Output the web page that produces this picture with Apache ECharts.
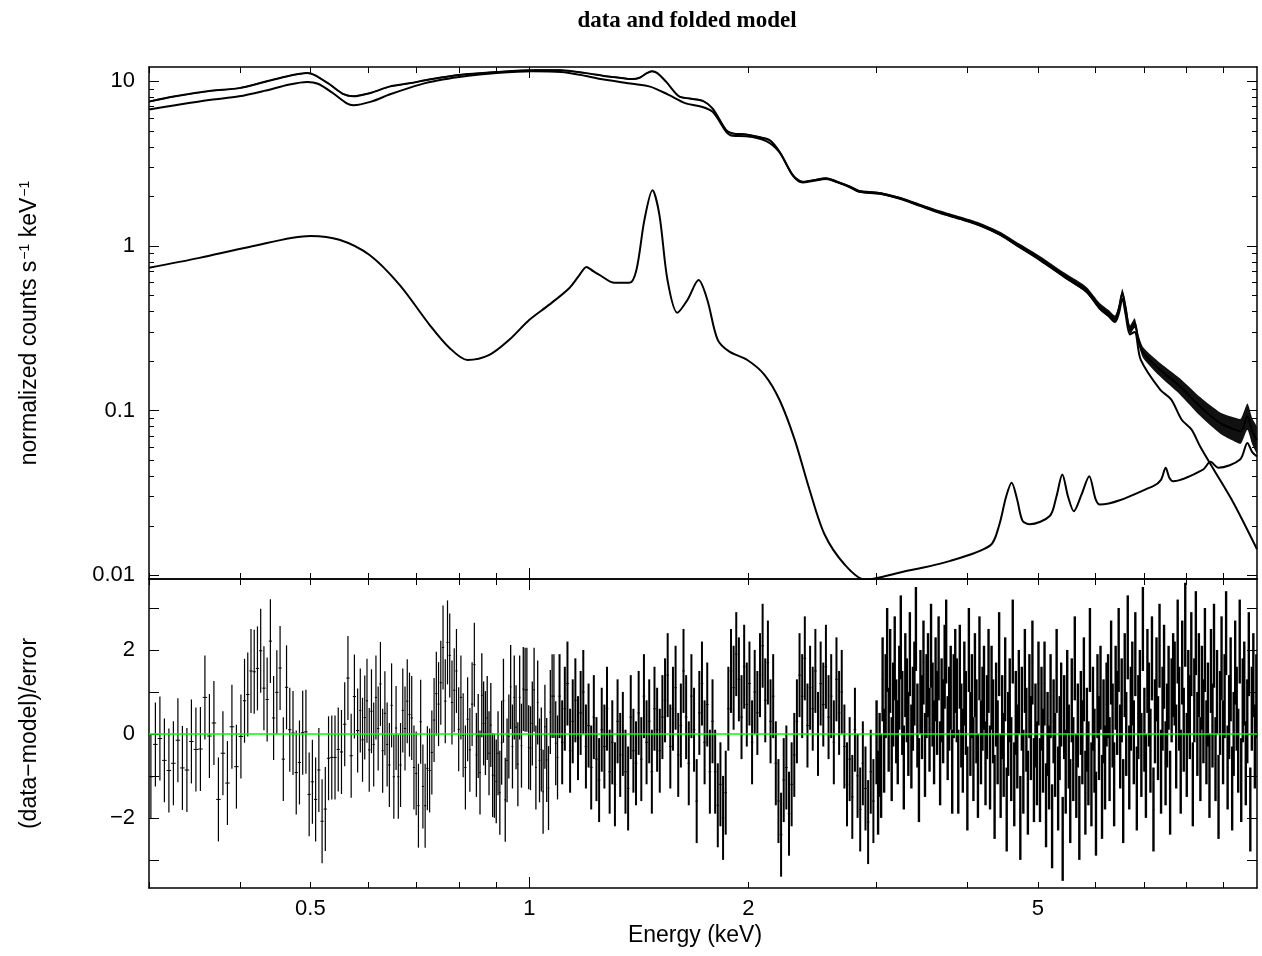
<!DOCTYPE html>
<html style="height: 100%">

<head>
	<meta charset="utf-8">
</head>

<body style="height: 100%; margin: 0; background: #fff">
	<div id="container" style="width: 1262px; height: 956px"></div>
	<script type="text/javascript" src="https://cdn.jsdelivr.net/npm/echarts@6/dist/echarts.min.js"></script>
	<script type="text/javascript">
		// tick positions / labels
		let xMajor = [1];
		let xMinor = [0.3, 0.4, 0.5, 0.6, 0.7, 0.8, 0.9, 2, 3, 4, 5, 6, 7, 8, 9];
		let xLabels = [0.5, 1, 2, 5];
		let yTopMajor = [0.01, 0.1, 1, 10];
		let yTopMinor = [0.02, 0.03, 0.04, 0.05, 0.06, 0.07, 0.08, 0.09, 0.2, 0.3, 0.4, 0.5, 0.6, 0.7, 0.8, 0.9, 2, 3, 4, 5, 6, 7, 8, 9];
		let yBotTicks = [-3, -2, -1, 0, 1, 2, 3];
		let yBotLabels = [-2, 0, 2];

		// data (total model overlaps it)
		let totalE = [0.3, 0.326, 0.365, 0.399, 0.432, 0.468, 0.495, 0.506, 0.53, 0.554,
			0.573, 0.606, 0.642, 0.687, 0.719, 0.76, 0.805, 0.901, 1.009, 1.105,
			1.196, 1.266, 1.33, 1.385, 1.417, 1.45, 1.474, 1.499, 1.542, 1.605,
			1.66, 1.731, 1.786, 1.864, 1.904, 1.986, 2.06, 2.138, 2.207, 2.302,
			2.374, 2.45, 2.558, 2.65, 2.757, 2.84, 3.03, 3.23, 3.44, 3.66,
			3.9, 4.16, 4.43, 4.72, 5.03, 5.47, 5.83, 6.08, 6.25, 6.38,
			6.46, 6.53, 6.6, 6.69, 6.79, 6.87, 6.98, 7.36, 7.84, 8.35,
			8.9, 9.3, 9.5, 9.7, 9.85, 10];
		let totalV = [7.52, 8.10, 8.74, 9.08, 9.89, 10.81, 11.2, 10.94, 9.65, 8.39,
			8.10, 8.51, 9.27, 9.74, 10.14, 10.56, 10.94, 11.37, 11.66, 11.66,
			11.2, 10.77, 10.5, 10.3, 10.5, 11.2, 11.5, 11.2, 9.9, 8.1,
			7.85, 7.6, 6.82, 5.05, 4.82, 4.75, 4.6, 4.39, 3.73, 2.69,
			2.45, 2.5, 2.57, 2.45, 2.29, 2.15, 2.09, 1.95, 1.77, 1.61,
			1.48, 1.35, 1.19, 1.0, 0.842, 0.652, 0.541, 0.43, 0.39, 0.36,
			0.42, 0.52, 0.42, 0.31, 0.34, 0.27, 0.224, 0.177, 0.140, 0.106,
			0.084, 0.077, 0.075, 0.092, 0.075, 0.066];
		// fractional error of the data (band thickness)
		let dataErr = [0.01, 0.01, 0.01, 0.01, 0.01, 0.01, 0.01, 0.01, 0.01, 0.01,
			0.01, 0.01, 0.01, 0.01, 0.01, 0.01, 0.01, 0.01, 0.01, 0.01,
			0.01, 0.01, 0.01, 0.01, 0.01, 0.01, 0.01, 0.01, 0.01, 0.01,
			0.01, 0.01, 0.01, 0.01, 0.01, 0.01, 0.01, 0.01, 0.01, 0.01,
			0.012, 0.012, 0.015, 0.015, 0.015, 0.018, 0.018, 0.02, 0.02, 0.022,
			0.022, 0.025, 0.028, 0.03, 0.033, 0.038, 0.042, 0.048, 0.05, 0.05,
			0.05, 0.055, 0.06, 0.065, 0.07, 0.075, 0.08, 0.1, 0.12, 0.14,
			0.16, 0.18, 0.19, 0.2, 0.2, 0.2];

		// continuum component
		let comp1E = [0.3, 0.326, 0.365, 0.399, 0.432, 0.468, 0.495, 0.512, 0.536, 0.561,
			0.573, 0.606, 0.642, 0.687, 0.719, 0.76, 0.805, 0.901, 1.009, 1.105,
			1.196, 1.266, 1.385, 1.465, 1.551, 1.64, 1.714, 1.786, 1.864, 1.904,
			1.986, 2.116, 2.207, 2.302, 2.374, 2.45, 2.558, 2.65, 2.757, 2.84,
			3.03, 3.23, 3.44, 3.66, 3.9, 4.16, 4.43, 4.72, 5.03, 5.47,
			5.83, 6.08, 6.25, 6.38, 6.46, 6.53, 6.6, 6.69, 6.79, 6.92,
			7.36, 7.62, 7.88, 8.13, 8.35, 8.72, 9.28, 10];
		let comp1V = [6.74, 7.15, 7.71, 8.10, 8.74, 9.55, 9.89, 9.65, 8.51, 7.34,
			7.15, 7.52, 8.30, 9.18, 9.74, 10.24, 10.66, 11.2, 11.48, 11.37,
			10.77, 10.24, 9.65, 9.27, 8.30, 7.34, 7.05, 6.52, 4.93, 4.66,
			4.63, 4.33, 3.7, 2.67, 2.43, 2.48, 2.55, 2.43, 2.27, 2.13,
			2.07, 1.93, 1.75, 1.59, 1.46, 1.33, 1.17, 0.98, 0.82, 0.635,
			0.525, 0.415, 0.375, 0.345, 0.39, 0.48, 0.38, 0.29, 0.3, 0.204,
			0.134, 0.117, 0.088, 0.0767, 0.0608, 0.0439, 0.0276, 0.0144];

		// line-rich component
		let comp2E = [0.3, 0.352, 0.412, 0.5, 0.548, 0.603, 0.663, 0.729, 0.776, 0.822,
			0.881, 0.939, 1.0, 1.065, 1.135, 1.17, 1.198, 1.225, 1.248, 1.309,
			1.372, 1.403, 1.439, 1.476, 1.509, 1.548, 1.597, 1.649, 1.708, 1.756,
			1.814, 1.883, 1.993, 2.104, 2.207, 2.315, 2.426, 2.545, 2.713, 2.892,
			3.23, 3.78, 4.3, 4.42, 4.52, 4.6, 4.68, 4.76, 4.87, 5.19,
			5.3, 5.4, 5.5, 5.6, 5.74, 5.88, 6.0, 6.08, 7.2, 7.38,
			7.49, 7.58, 7.67, 8.43, 8.63, 8.85, 9.48, 9.7, 9.85, 10];
		let comp2V = [0.736, 0.846, 0.986, 1.15, 1.09, 0.88, 0.58, 0.332, 0.241, 0.203,
			0.218, 0.27, 0.356, 0.44, 0.556, 0.66, 0.746, 0.70, 0.667, 0.597,
			0.597, 0.715, 1.44, 2.18, 1.54, 0.62, 0.393, 0.47, 0.62, 0.47,
			0.27, 0.228, 0.203, 0.165, 0.116, 0.0667, 0.0332, 0.0177, 0.0116, 0.0094,
			0.0104, 0.0122, 0.0152, 0.0200, 0.030, 0.0365, 0.029, 0.0215, 0.0204, 0.0229,
			0.030, 0.041, 0.030, 0.0245, 0.031, 0.040, 0.029, 0.0269, 0.0348, 0.038,
			0.045, 0.039, 0.0373, 0.0439, 0.0489, 0.045, 0.0505, 0.0637, 0.056, 0.0527];

		// residuals, (data-model)/error, in energy segments (bins evenly spaced in log E)
		let resLo = [0.3018, 0.4059, 0.5855, 0.8455, 1.10, 3.0];
		let resHi = [0.4013, 0.5806, 0.8400, 1.093, 2.97, 9.98];
		let resA = [-1.02, -0.25, -0.11, -0.63, -0.87, -0.7, -0.15, -0.81, -0.86, -0.18, -0.37, -0.36, 0.87, -0.05, 0.26, -1.56, -0.46, -1.17, 0.17, -0.78, -0.06];
		let resB = [0.79, 0.94, 1.5, 1.48, 1.56, 1.98, 1.09, 0.82, 2.21, 0.38, 0.99, 1.57, -0.6, 1.11, 0.1, 0.02, -0.92, -0.68, 0.03, 0.05,
			-1.44, -1.14, -1.56, -0.86, -2.08, -1.79, -0.58, -0.56, -0.56, -0.37, -0.43, 0.23, 1.33, -0.52, 0.89, 0.08];
		let resC = [0.56, -0.14, 0.39, 0.79, -0.38, 0.54, -0.25, 0.87, 0.13, 1.19, -0.4, 0.49, -0.25, -0.74, 0.68, -1.02, 0.14, -1.02, -0.74, 0.56,
			0.13, 0.78, 0.46, 0.38, -0.8, -0.94, -1.71, 0.29, -1.25, -1.71, -0.82, -0.87, -0.44, 0.33, 0.96, 0.71, 1.22, 2.06, 0.78, 2.18,
			1.87, 0.75, 1.04, 1.5, 0.11, 0.87, -0.03, -0.8, 0.35, -0.38, 0.71, 1.65];
		let resD = [-0.5, -0.05, -0.92, 0.92, 0.25, 0.02, 0.38, -0.46, 0.21, -0.98, -1.0, -1.13, -0.46, -1.4, -0.21, 0.79, -1.57, -0.63, -0.06, 1.12,
			-0.3, 0.87, 0.16, -0.72, 0.87, -0.28, 1.07, 1.05, 1.05, -0.32, -0.34, 0.25, 1.05, -0.8, 0.75, -0.63, -0.37, -1.38, 0.17, -0.62,
			-1.29, 0.52, 0.9, 0.9, -0.22, -0.56];
		let resE = [0.9, -0.2, 0.6, 1.2, -0.4, 0.3, 0.8, -0.1, 0.5, 1.0, -0.3,
			0.2, -0.8, 0.4, -0.6, -1.1, 0.1, -0.3, 0.6, -0.9, -0.2, -1.2, 0.3, -0.5, 0.0, -0.9, -1.3, 0.4, -0.4, -0.7,
			0.5, -0.6, 0.9, -0.2, 0.3, -0.9, 0.6, 0.1, -0.4, 0.4,
			0.8, 1.4, -0.3, 0.6, 1.1, -0.5, 0.2, 1.5, 0.4, -0.7, 0.9, 0.1, -1.6, 0.5, 1.2, -0.2, 0.7, -0.9, 0.3,
			-0.9, -1.7, -1.2, -2.0, -1.4,
			0.6, 1.5, 1.1, 1.9, 1.3,
			0.4, 1.6, 0.7, 1.2, -0.2, 1.0, 0.5, 1.4, 2.1, 0.8, 1.7, 0.3, 0.9,
			-0.7, -1.6, -2.4, -1.1, -0.8, -1.9, -1.2, -0.5,
			0.3, 1.4, 0.9, 1.8, 0.2, 1.1, 0.6, 1.5, 0.0, 1.2, 0.7, 1.6, 0.4, 0.9, -0.2, 1.3, 0.5, 1.0,
			-0.3, -1.2, -0.6, -1.5, 0.1, -1.0, -1.8, -0.7, -1.3, -2.1, -0.9, -1.6];
		let resF = [-0.2, -1.4, -0.5, -1.0,
			1.3, -0.4, 0.9, 2.0, 0.1, 1.5, -0.6, 0.7, 1.8, 0.3, -0.2, 1.1, 2.3, 0.5, -0.8, 1.4, 0.8, 0.0, 1.9, -0.3,
			0.6, 1.2, 2.5, 0.2, -1.1, 1.0, 0.4, 1.7, -0.5, 0.9, 1.4, 0.1, 2.1, 0.7, -0.2, 1.3, 0.5, 1.8, -0.7, 0.8,
			0.3, 1.6, 2.2, -0.1, 0.6, 1.1, -0.9, 0.9, 1.5,
			0.8, -0.9, 1.6, 0.2, -0.4, 1.2, 0.5, -1.3, 2.0, 0.0, 0.9, -0.6, 1.4, 0.3, -1.0, 1.8, -0.2, 0.6, 1.1, -0.7, 0.4, 1.5,
			-0.8, 1.1, 0.3, -1.5, 0.7, -0.2, 1.9, -1.0, 0.4, -0.5, 1.3, -1.8, 0.0, 0.8, -0.6, 2.2, -1.2, 0.5, -0.3, 1.0,
			-2.0, 0.6, -0.9, 1.5, 0.1, -1.4, 0.9, -0.1, 1.7, -1.1, 0.2, -0.7, 1.2,
			-1.1, 0.6, -0.4, 1.2, -1.7, 0.0, -0.8, 0.9, -2.2, 0.3, -0.5, 1.5, -1.3, -0.1, 0.7, -2.5, 0.4, -0.9, 1.0, -0.3,
			-1.6, 0.8, -0.6, 1.8, -1.0, 0.2, -2.0, 0.5, -0.2, 1.3, -1.4, 0.1, -0.7, 2.0, -1.2, 0.6, -0.4, -1.9, 0.9, -0.1,
			1.1, -1.5, 0.3, -0.8, 0.7,
			0.9, -0.6, 1.7, 0.2, -1.2, 1.1, 0.5, 2.0, -0.3, 0.8, -1.6, 1.4, 0.0, 2.3, -0.8, 0.6, 1.2, -0.2, 1.9, -1.3,
			0.4, 1.0, -0.5, 2.5, 0.1, -1.0, 1.5, 0.7, -0.4, 1.8, -1.8, 0.3, 1.3, -0.1, 2.1, -0.9, 0.6, 1.6, -0.7, 0.2,
			1.1, -1.4, 0.8, 1.4,
			1.2, -0.3, 2.2, 0.6, -0.9, 1.7, 0.1, 2.6, -0.5, 1.0, 0.4, 1.9, -1.2, 0.8, 2.4, 0.0, 1.4, -0.6, 1.1, 0.3, 2.0, -0.2,
			0.7, -1.0, 1.5, 0.2, 2.1, -0.6, 1.0, -1.5, 0.5, 1.8, -0.2, 0.9, 2.4, -0.8, 0.4, 1.3, -1.3, 0.0, 1.7, 0.6,
			-0.4, 2.2, -1.1, 0.8, 1.2, -0.7, 0.3, 1.9, -1.8, 0.6, 1.4, -0.3, 0.9];
		let resVals = [resA, resB, resC, resD, resE, resF];
		// stroke width of the error bars per segment (dense bins merge into a dark mass)
		let resBarWidth = [1.2, 1.2, 1.2, 1.3, 2.0, 2.4];

		let font = '"Liberation Sans", Arial, sans-serif';

		function pairs(xs, ys) {
			return xs.map(function (x, i) { return [x, ys[i]]; });
		}

		let resData = [];
		resVals.forEach(function (vals, s) {
			let n = vals.length;
			let step = Math.pow(resHi[s] / resLo[s], 1 / (n - 1));
			let half = Math.sqrt(step);
			vals.forEach(function (r, i) {
				let e = resLo[s] * Math.pow(step, i);
				resData.push([e, r, e / half, e * half, s]);
			});
		});

		function xAx(grid, pos, ticks, len, line) {
			return {
				type: 'log', logBase: 10, gridIndex: grid, position: pos, min: 0.3, max: 10,
				axisLine: { show: line, onZero: false, lineStyle: { color: '#000', width: 1.5 } },
				axisTick: { show: true, inside: true, length: len, customValues: ticks, lineStyle: { color: '#000', width: 1 } },
				axisLabel: { show: false },
				splitLine: { show: false }
			};
		}

		function yTop(pos, ticks, len, line) {
			return {
				type: 'log', logBase: 10, gridIndex: 0, position: pos, min: 0.0095, max: 12.2,
				axisLine: { show: line, onZero: false, lineStyle: { color: '#000', width: 1.5 } },
				axisTick: { show: true, inside: true, length: len, customValues: ticks, lineStyle: { color: '#000', width: 1 } },
				axisLabel: { show: false },
				splitLine: { show: false }
			};
		}

		function yBot(pos) {
			return {
				type: 'value', gridIndex: 1, position: pos, min: -3.67, max: 3.69,
				axisLine: { show: true, onZero: false, lineStyle: { color: '#000', width: 1.5 } },
				axisTick: { show: true, inside: true, length: 10, customValues: yBotTicks, lineStyle: { color: '#000', width: 1 } },
				axisLabel: { show: false },
				splitLine: { show: false }
			};
		}

		let labelStyle = { show: true, fontFamily: font, fontSize: 22, color: '#000' };

		let xAxes = [
			xAx(0, 'bottom', xMajor, 11, true),
			xAx(0, 'bottom', xMinor, 6, false),
			xAx(0, 'top', xMajor, 11, true),
			xAx(0, 'top', xMinor, 6, false),
			xAx(1, 'bottom', xMajor, 11, true),
			xAx(1, 'bottom', xMinor, 6, false),
			xAx(1, 'top', xMajor, 11, true),
			xAx(1, 'top', xMinor, 6, false)
		];
		xAxes[4].axisLabel = Object.assign({}, labelStyle, {
			customValues: xLabels, margin: 10,
			formatter: function (v) { return String(+(+v).toPrecision(3)); }
		});
		xAxes[4].name = 'Energy (keV)';
		xAxes[4].nameLocation = 'middle';
		xAxes[4].nameGap = 36;
		xAxes[4].nameTextStyle = { fontFamily: font, fontSize: 23, color: '#000', padding: [0, 16, 0, 0] };

		let yAxes = [
			yTop('left', yTopMajor, 10, true),
			yTop('left', yTopMinor, 5, false),
			yTop('right', yTopMajor, 10, true),
			yTop('right', yTopMinor, 5, false),
			yBot('left'),
			yBot('right')
		];
		yAxes[0].axisLabel = Object.assign({}, labelStyle, {
			customValues: yTopMajor, margin: 14,
			formatter: function (v) { return String(+(+v).toPrecision(3)); }
		});
		yAxes[0].name = 'normalized counts s{sup|\u22121} keV{sup|\u22121}';
		yAxes[0].nameLocation = 'middle';
		yAxes[0].nameRotate = 90;
		yAxes[0].nameGap = 108;
		yAxes[0].nameTextStyle = {
			fontFamily: font, fontSize: 23, color: '#000',
			rich: { sup: { fontFamily: font, fontSize: 14, color: '#000', verticalAlign: 'top', padding: [0, 0, 0, 1] } }
		};
		yAxes[4].axisLabel = Object.assign({}, labelStyle, {
			customValues: yBotLabels, margin: 14,
			formatter: function (v) { return v < 0 ? '\u2212' + (-v) : String(v); }
		});
		yAxes[4].name = '(data\u2212model)/error';
		yAxes[4].nameLocation = 'middle';
		yAxes[4].nameRotate = 90;
		yAxes[4].nameGap = 108;
		yAxes[4].nameTextStyle = { fontFamily: font, fontSize: 23, color: '#000' };

		function renderBand(params, api) {
			let upper = totalE.map(function (e, i) { return api.coord([e, totalV[i] * (1 + dataErr[i])]); });
			let lower = totalE.map(function (e, i) { return api.coord([e, totalV[i] / (1 + dataErr[i])]); });
			return {
				type: 'polygon',
				shape: { points: upper.concat(lower.reverse()), smooth: 0.2 },
				style: { fill: '#111' }
			};
		}

		function renderBars(params, api) {
			let e = api.value(0), r = api.value(1), lo = api.value(2), hi = api.value(3);
			let w = resBarWidth[api.value(4)];
			let top = api.coord([e, r + 1]);
			let bot = api.coord([e, r - 1]);
			let left = api.coord([lo, r]);
			let right = api.coord([hi, r]);
			return {
				type: 'group',
				children: [
					{ type: 'line', shape: { x1: top[0], y1: top[1], x2: bot[0], y2: bot[1] }, style: { stroke: '#000', lineWidth: w } },
					{ type: 'line', shape: { x1: left[0], y1: left[1], x2: right[0], y2: right[1] }, style: { stroke: '#000', lineWidth: 1 } }
				]
			};
		}

		let dom = document.getElementById('container');
		let myChart = echarts.init(dom, null, { renderer: 'canvas' });

		let option = {
			animation: false,
			backgroundColor: '#fff',
			graphic: [{
				type: 'text', x: 687, y: 21,
				style: {
					text: 'data and folded model', textAlign: 'center', textVerticalAlign: 'middle',
					font: 'bold 23px "Liberation Serif", "Times New Roman", serif', fill: '#000'
				}
			}],
			grid: [
				{ left: 149, top: 67, width: 1108, height: 512 },
				{ left: 149, top: 579, width: 1108, height: 309 }
			],
			xAxis: xAxes,
			yAxis: yAxes,
			series: [
				{
					type: 'custom', xAxisIndex: 0, yAxisIndex: 0, clip: true,
					data: [[1, 1]], renderItem: renderBand, silent: true
				},
				{
					type: 'line', xAxisIndex: 0, yAxisIndex: 0, data: pairs(comp2E, comp2V),
					showSymbol: false, smooth: 0.3, lineStyle: { color: '#000', width: 2 }, silent: true
				},
				{
					type: 'line', xAxisIndex: 0, yAxisIndex: 0, data: pairs(comp1E, comp1V),
					showSymbol: false, smooth: 0.3, lineStyle: { color: '#000', width: 2 }, silent: true
				},
				{
					type: 'line', xAxisIndex: 0, yAxisIndex: 0, data: pairs(totalE, totalV),
					showSymbol: false, smooth: 0.3, lineStyle: { color: '#000', width: 2 }, silent: true
				},
				{
					type: 'custom', xAxisIndex: 4, yAxisIndex: 4, clip: true,
					dimensions: ['e', 'r', 'lo', 'hi', 'seg'], encode: { x: 0, y: 1 },
					data: resData, renderItem: renderBars, silent: true,
					markLine: {
						silent: true, symbol: 'none', label: { show: false },
						lineStyle: { color: '#00ff00', width: 1.5, type: 'solid' },
						data: [{ yAxis: 0 }]
					}
				}
			]
		};

		myChart.setOption(option);
	</script>
</body>

</html>
